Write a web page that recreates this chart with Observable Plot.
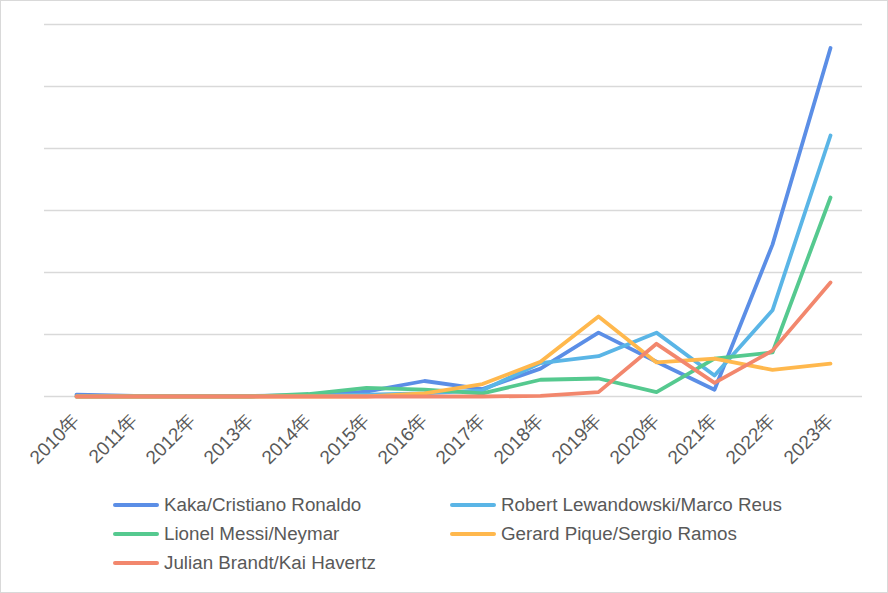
<!DOCTYPE html>
<html>
<head>
<meta charset="utf-8">
<script src="https://cdn.jsdelivr.net/npm/d3@7"></script>
<script src="https://cdn.jsdelivr.net/npm/@observablehq/plot@0.6"></script>
<style>
  html, body { margin: 0; padding: 0; background: #fff; }
  #frame { position: relative; width: 888px; height: 593px; box-sizing: border-box; border: 1px solid #d9d9d9; background: #fff; overflow: hidden; font-family: "Liberation Sans", Arial, sans-serif; }
  #chart { position: absolute; left: 0; top: 0; }
  .leg { position: absolute; display: flex; align-items: center; font-size: 18.8px; color: #595959; white-space: nowrap; }
  .sw { width: 46px; height: 4px; border-radius: 2px; margin-right: 5px; }
  #chart svg g[aria-label="x-axis tick label"] text { font-size: 19px; }
</style>
</head>
<body>
<div id="frame"><div id="chart"></div></div>
<script>
const years = ["2010年","2011年","2012年","2013年","2014年","2015年","2016年","2017年","2018年","2019年","2020年","2021年","2022年","2023年"];
const seriesNames = ["Kaka/Cristiano Ronaldo","Robert Lewandowski/Marco Reus","Lionel Messi/Neymar","Gerard Pique/Sergio Ramos","Julian Brandt/Kai Havertz"];
const seriesColors = ["#5b8ee6","#5ab5e6","#55c98f","#ffb84d","#f2876d"];
const kakaRonaldo   = [0.3, 0.1, 0.1, 0.1, 0.2, 0.8, 2.5, 1.2, 4.5, 10.3, 5.6, 1.1, 24.5, 56.2];
const lewandowskiReus = [0.0, 0.0, 0.0, 0.0, 0.1, 0.3, 0.5, 1.0, 5.4, 6.5, 10.3, 3.4, 13.9, 42.1];
const messiNeymar   = [0.0, 0.0, 0.0, 0.0, 0.4, 1.4, 1.1, 0.5, 2.7, 2.9, 0.7, 6.1, 7.1, 32.1];
const piqueRamos    = [0.0, 0.0, 0.0, 0.0, 0.0, 0.0, 0.5, 2.0, 5.6, 12.9, 5.5, 6.1, 4.3, 5.3];
const brandtHavertz = [0.0, 0.0, 0.0, 0.0, 0.0, 0.0, 0.0, 0.0, 0.1, 0.7, 8.5, 2.2, 7.4, 18.4];
const yTicks = [0, 10, 20, 30, 40, 50, 60];

const allSeries = [kakaRonaldo, lewandowskiReus, messiNeymar, piqueRamos, brandtHavertz];
const rows = [];
allSeries.forEach((vals, si) => vals.forEach((v, i) => rows.push({year: years[i], value: v, series: seriesNames[si]})));

const plot = Plot.plot({
  width: 886,
  height: 470,
  marginLeft: 43,
  marginRight: 25,
  marginTop: 23,
  marginBottom: 75,
  style: {fontFamily: "Liberation Sans, Arial, sans-serif", fontSize: "19px", color: "#595959", background: "transparent"},
  x: {type: "point", domain: years, padding: 0.5, label: null},
  y: {domain: [0, 60], label: null, axis: null},
  color: {domain: seriesNames, range: seriesColors},
  marks: [
    Plot.ruleY(yTicks, {stroke: "#d9d9d9", strokeWidth: 1.5}),
    Plot.axisX({tickRotate: -45, tickSize: 0, tickPadding: 21, label: null, fontSize: 19, fill: "#595959"}),
    Plot.line(rows, {x: "year", y: "value", z: "series", stroke: "series", strokeWidth: 3.8, strokeLinejoin: "round", strokeLinecap: "round"})
  ]
});
document.getElementById("chart").appendChild(plot);

const legPos = [[112, 504], [449, 504], [112, 533], [449, 533], [112, 562]];
const frame = document.getElementById("frame");
seriesNames.forEach((n, i) => {
  const d = document.createElement("div");
  d.className = "leg";
  d.style.left = (legPos[i][0]) + "px";
  d.style.top = (legPos[i][1] - 12) + "px";
  d.style.height = "24px";
  const sw = document.createElement("span");
  sw.className = "sw";
  sw.style.background = seriesColors[i];
  const t = document.createElement("span");
  t.textContent = n;
  d.appendChild(sw); d.appendChild(t);
  frame.appendChild(d);
});
</script>
</body>
</html>
